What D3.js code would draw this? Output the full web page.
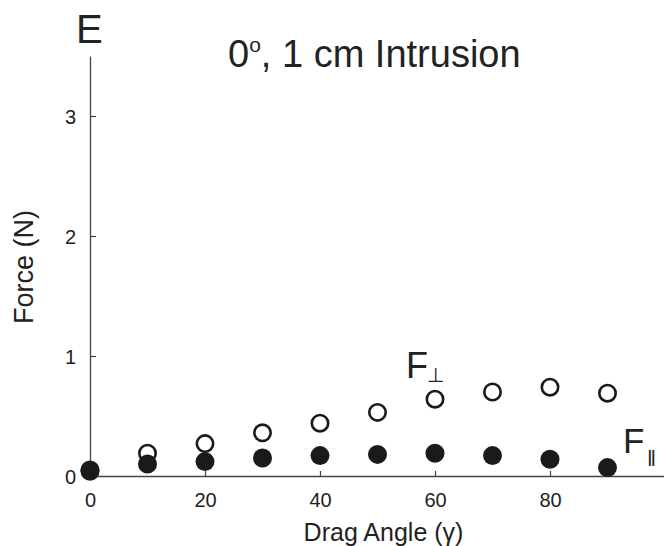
<!DOCTYPE html>
<html>
<head>
<meta charset="utf-8">
<script src="https://cdn.jsdelivr.net/npm/d3@7"></script>
<style>
  body { margin: 0; background: #fff; }
  text { font-family: "Liberation Sans", Arial, sans-serif; fill: #222; }
</style>
</head>
<body>
<div id="my_dataviz"></div>
<script>
// drag angles (deg) and measured forces (N)
var ANGLES = [0, 10, 20, 30, 40, 50, 60, 70, 80, 90];
var F_PERP = [0.05, 0.19, 0.27, 0.36, 0.44, 0.53, 0.64, 0.70, 0.74, 0.69];
var F_PAR  = [0.04, 0.10, 0.12, 0.15, 0.17, 0.18, 0.19, 0.17, 0.14, 0.07];
var X_TICKS = [0, 20, 40, 60, 80];
var Y_TICKS = [0, 1, 2, 3];

var W = 664, H = 546;
var margin = {top: 56, right: 0, bottom: 70, left: 90};

var svg = d3.select("#my_dataviz")
    .append("svg")
    .attr("width", W)
    .attr("height", H);

var x = d3.scaleLinear()
    .domain([0, 100])
    .range([margin.left, W - margin.right + 1]);

var y = d3.scaleLinear()
    .domain([0, 3.5])
    .range([H - margin.bottom, margin.top]);

// x axis, ticks pointing inward
var xAxis = svg.append("g")
    .attr("transform", "translate(0," + y(0) + ")")
    .call(d3.axisBottom(x).tickValues(X_TICKS).tickFormat(d3.format("d"))
        .tickSizeInner(-5).tickSizeOuter(0).tickPadding(31));
xAxis.select(".domain").attr("stroke", "#444").attr("stroke-width", 1.3);
xAxis.selectAll(".tick line").attr("stroke", "#444").attr("stroke-width", 1.2);
xAxis.selectAll("text").style("font-size", "20px").attr("fill", "#222").attr("dy", "0");

// y axis
var yAxis = svg.append("g")
    .attr("transform", "translate(" + x(0) + ",0)")
    .call(d3.axisLeft(y).tickValues(Y_TICKS).tickFormat(d3.format("d"))
        .tickSizeInner(-6).tickSizeOuter(0).tickPadding(14));
yAxis.select(".domain").attr("stroke", "#444").attr("stroke-width", 1.3);
yAxis.selectAll(".tick line").attr("stroke", "#444").attr("stroke-width", 1.2);
yAxis.selectAll("text").style("font-size", "20px").attr("fill", "#222").attr("dy", "0.36em");

var perp = ANGLES.map(function(a, i) { return {a: a, v: F_PERP[i]}; });
var par = ANGLES.map(function(a, i) { return {a: a, v: F_PAR[i]}; });

// open circles: perpendicular force
svg.append("g").selectAll("circle")
    .data(perp)
    .enter()
    .append("circle")
    .attr("cx", function(d) { return x(d.a); })
    .attr("cy", function(d) { return y(d.v); })
    .attr("r", 8.2)
    .attr("fill", "#fff")
    .attr("stroke", "#1a1a1a")
    .attr("stroke-width", 2.6);

// filled circles: parallel force
svg.append("g").selectAll("circle")
    .data(par)
    .enter()
    .append("circle")
    .attr("cx", function(d) { return x(d.a); })
    .attr("cy", function(d) { return y(d.v); })
    .attr("r", 9.5)
    .attr("fill", "#1a1a1a");

// panel letter and title
svg.append("text").attr("x", 76).attr("y", 43).style("font-size", "40px").text("E");

var title = svg.append("text").attr("x", 228).attr("y", 67).style("font-size", "38px");
title.append("tspan").text("0");
title.append("tspan").attr("dy", -15).style("font-size", "21px").text("o");
title.append("tspan").attr("dy", 15).text(", 1 cm Intrusion");

// axis labels
svg.append("text")
    .attr("x", x(50) + 6).attr("y", 541)
    .attr("text-anchor", "middle")
    .style("font-size", "25px")
    .text("Drag Angle (γ)");

svg.append("text")
    .attr("transform", "translate(33,267) rotate(-90)")
    .attr("text-anchor", "middle")
    .style("font-size", "27px")
    .text("Force (N)");

// series labels
svg.append("text").attr("x", 406).attr("y", 378).style("font-size", "36px").text("F");
svg.append("text").attr("x", 427).attr("y", 382).style("font-size", "20px").text("⊥");

svg.append("text").attr("x", 623).attr("y", 453).style("font-size", "35px").text("F");
svg.append("text").attr("x", 647).attr("y", 466).style("font-size", "22px").text("‖");
</script>
</body>
</html>
